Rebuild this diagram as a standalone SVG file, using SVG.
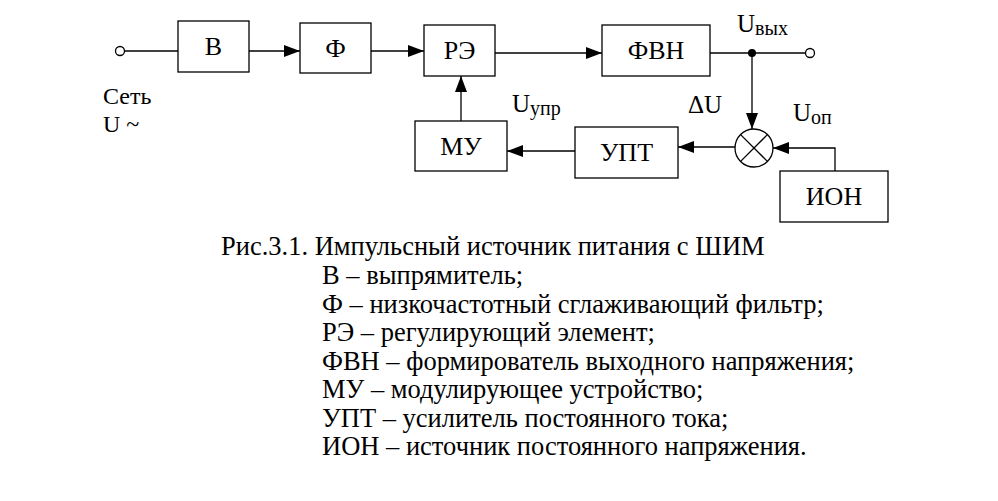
<svg xmlns="http://www.w3.org/2000/svg" width="998" height="501" viewBox="0 0 998 501">
<style>
.box{fill:#fff;stroke:#000;stroke-width:1.3}
.ln{fill:none;stroke:#000;stroke-width:1.3}
.t{font-family:'Liberation Serif','Times New Roman',serif;fill:#000}
.lbl{font-size:26px;text-anchor:middle}
.cap{font-size:26.5px}
.sub{font-size:20px}
</style>
<defs>
<marker id="ah" markerWidth="16" markerHeight="12" refX="16" refY="6" orient="auto" markerUnits="userSpaceOnUse">
<path d="M0,0 L16,6 L0,12 Z" fill="#000"/>
</marker>
</defs>
<rect width="998" height="501" fill="#fff"/>
<g id="connectors">
<line class="ln" x1="124.5" y1="51" x2="178" y2="51"/>
<line class="ln" x1="249" y1="51" x2="300" y2="51" marker-end="url(#ah)"/>
<line class="ln" x1="371" y1="51" x2="424" y2="51" marker-end="url(#ah)"/>
<line class="ln" x1="495" y1="53" x2="602" y2="53" marker-end="url(#ah)"/>
<line class="ln" x1="710" y1="53" x2="805.5" y2="53"/>
<line class="ln" x1="752" y1="53" x2="752" y2="129" marker-end="url(#ah)"/>
<line class="ln" x1="461" y1="121" x2="461" y2="76" marker-end="url(#ah)"/>
<line class="ln" x1="575" y1="151" x2="507" y2="151" marker-end="url(#ah)"/>
<line class="ln" x1="735" y1="147" x2="678" y2="147" marker-end="url(#ah)"/>
<polyline class="ln" points="835,171 835,148 773,148" marker-end="url(#ah)"/>
<circle cx="752" cy="53" r="4" fill="#000"/>
<circle cx="120" cy="51" r="4.5" fill="#fff" stroke="#000" stroke-width="1.3"/>
<circle cx="810" cy="53" r="4.5" fill="#fff" stroke="#000" stroke-width="1.3"/>
</g>
<g id="B"><rect class="box" x="178" y="21" width="71" height="51"/><text class="t lbl" x="213.5" y="55">В</text></g>
<g id="F"><rect class="box" x="300" y="23" width="71" height="50"/><text class="t lbl" x="335.5" y="57">Ф</text></g>
<g id="RE"><rect class="box" x="424" y="25" width="71" height="51"/><text class="t lbl" x="459.5" y="59">РЭ</text></g>
<g id="FVN"><rect class="box" x="602" y="25" width="108" height="51"/><text class="t lbl" x="656" y="59">ФВН</text></g>
<g id="MU"><rect class="box" x="415" y="121" width="92" height="50"/><text class="t lbl" x="461" y="155">МУ</text></g>
<g id="UPT"><rect class="box" x="575" y="127" width="103" height="51"/><text class="t lbl" x="626.5" y="161">УПТ</text></g>
<g id="ION"><rect class="box" x="780" y="171" width="108" height="51"/><text class="t lbl" x="834" y="205">ИОН</text></g>
<g id="sum">
<circle cx="754" cy="148" r="19" fill="#fff" stroke="#000" stroke-width="1.3"/>
<line class="ln" x1="740.6" y1="134.6" x2="767.4" y2="161.4"/>
<line class="ln" x1="767.4" y1="134.6" x2="740.6" y2="161.4"/>
</g>
<g id="labels">
<text class="t" font-size="24" x="103" y="104">Сеть</text>
<text class="t" font-size="24" x="103" y="132">U ~</text>
<text class="t" font-size="25" x="737" y="32">U<tspan class="sub" dy="3">вых</tspan></text>
<text class="t" font-size="25" x="512" y="112">U<tspan class="sub" dy="3">упр</tspan></text>
<text class="t" font-size="25" x="688" y="113">ΔU</text>
<text class="t" font-size="25" x="793" y="121">U<tspan class="sub" dy="3">оп</tspan></text>
</g>
<g id="caption" class="t cap">
<text x="221" y="255">Рис.3.1. Импульсный источник питания с ШИМ</text>
<text x="322" y="284">В – выпрямитель;</text>
<text x="322" y="312.5">Ф – низкочастотный сглаживающий фильтр;</text>
<text x="322" y="341">РЭ – регулирующий элемент;</text>
<text x="322" y="369.5">ФВН – формирователь выходного напряжения;</text>
<text x="322" y="398">МУ – модулирующее устройство;</text>
<text x="322" y="426.5">УПТ – усилитель постоянного тока;</text>
<text x="322" y="455">ИОН – источник постоянного напряжения.</text>
</g>
</svg>
